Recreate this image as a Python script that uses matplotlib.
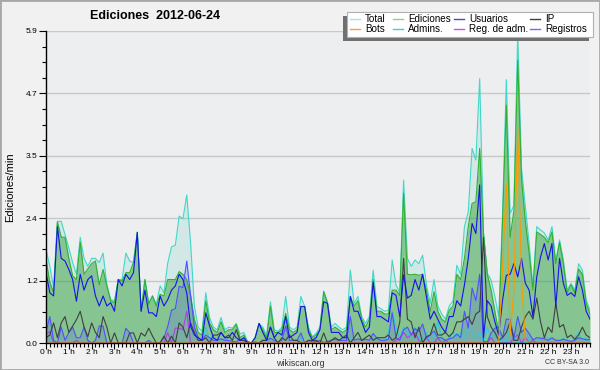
import matplotlib
matplotlib.use('Agg')
import matplotlib.pyplot as plt
import numpy as np
from matplotlib.lines import Line2D
from matplotlib.patches import Rectangle

# edits per minute, 10 min steps (one row per hour)
total = [
    1.77, 1.45, 1.05, 2.3, 2.3, 2.05,
    1.8, 1.52, 1.3, 2.0, 1.6, 1.45,
    1.6, 1.6, 1.52, 1.7, 1.1, 0.82,
    0.8, 1.2, 1.2, 1.7, 1.55, 1.52,
    2.1, 0.6, 1.2, 0.76, 0.89, 0.73,
    1.08, 0.95, 1.51, 1.82, 1.85, 2.4,
    2.35, 2.8, 1.9, 0.7, 0.3, 0.22,
    0.95, 0.48, 0.3, 0.25, 0.48, 0.25,
    0.3, 0.28, 0.37, 0.17, 0.2, 0.03,
    0.0, 0.12, 0.37, 0.3, 0.15, 0.78,
    0.25, 0.22, 0.3, 0.88, 0.3, 0.25,
    0.3, 0.88, 0.69, 0.3, 0.12, 0.18,
    0.3, 0.98, 0.78, 0.3, 0.37, 0.3,
    0.25, 0.3, 1.38, 0.75, 0.88, 0.5,
    0.37, 0.5, 1.38, 0.69, 0.65, 0.6,
    0.62, 1.57, 1.1, 0.95, 3.08, 1.6,
    1.45, 1.57, 1.5, 1.66, 1.1, 0.75,
    1.2, 0.7, 0.55, 0.45, 0.7, 0.8,
    1.47, 1.3, 2.2, 2.48, 3.68, 3.46,
    5.0, 2.1, 1.32, 1.19, 0.88, 0.5,
    2.4, 4.98, 2.45, 2.6, 5.85, 3.3,
    2.58, 1.88, 1.06, 2.2, 2.14, 2.08,
    1.95, 2.2, 1.55, 1.95, 1.57, 1.0,
    1.13, 1.0, 1.5, 1.38, 0.81, 0.62,
]
ediciones = [
    1.58, 1.15, 0.95, 2.29, 2.0, 2.0,
    1.6, 1.27, 1.2, 1.9, 1.3, 1.4,
    1.5, 1.55, 1.1, 1.39, 1.08, 0.8,
    0.76, 1.2, 1.17, 1.33, 1.33, 1.52,
    2.09, 0.6, 1.2, 0.73, 0.89, 0.7,
    0.92, 0.89, 1.2, 1.2, 1.2, 1.35,
    1.3, 1.2, 0.9, 0.45, 0.2, 0.15,
    0.8, 0.38, 0.25, 0.2, 0.4, 0.2,
    0.25, 0.25, 0.35, 0.1, 0.15, 0.0,
    0.0, 0.1, 0.37, 0.25, 0.1, 0.69,
    0.2, 0.2, 0.25, 0.56, 0.25, 0.2,
    0.25, 0.69, 0.69, 0.25, 0.1, 0.15,
    0.25, 0.97, 0.75, 0.25, 0.3, 0.25,
    0.2, 0.25, 0.88, 0.7, 0.8, 0.45,
    0.3, 0.45, 1.2, 0.6, 0.6, 0.55,
    0.55, 1.0, 1.0, 0.9, 2.83, 1.3,
    1.29, 1.3, 1.28, 1.3, 1.0, 0.6,
    0.97, 0.6, 0.45, 0.4, 0.62, 0.7,
    1.3, 1.2, 1.6, 2.2, 2.64, 2.67,
    3.68, 2.07, 1.3, 1.0, 0.6, 0.2,
    2.3, 4.5, 2.0, 2.5, 5.35, 3.1,
    2.3, 1.7, 1.0, 2.1, 2.05, 2.0,
    1.9, 2.1, 1.5, 1.9, 1.5, 0.95,
    1.1, 0.95, 1.4, 1.3, 0.75, 0.55,
]
usuarios = [
    1.33, 0.95, 0.89, 2.2, 1.6, 1.55,
    1.39, 1.2, 0.79, 1.3, 1.0, 1.2,
    1.27, 0.89, 0.7, 0.89, 0.7, 0.76,
    0.6, 1.2, 1.08, 1.3, 1.2, 1.33,
    2.09, 0.6, 1.0, 0.57, 0.57, 0.5,
    0.89, 0.7, 0.82, 1.0, 1.08, 1.3,
    1.2, 0.95, 0.32, 0.15, 0.1, 0.05,
    0.57, 0.32, 0.1, 0.05, 0.2, 0.1,
    0.1, 0.2, 0.1, 0.05, 0.1, 0.0,
    0.0, 0.1, 0.37, 0.2, 0.05, 0.3,
    0.1, 0.2, 0.15, 0.5, 0.1, 0.15,
    0.2, 0.69, 0.69, 0.2, 0.05, 0.1,
    0.25, 0.78, 0.75, 0.2, 0.2, 0.2,
    0.1, 0.1, 0.88, 0.6, 0.6, 0.4,
    0.2, 0.3, 1.15, 0.5, 0.5, 0.45,
    0.4, 0.95, 0.9, 0.5, 1.29, 0.85,
    0.9, 1.2, 1.0, 1.3, 0.88, 0.45,
    0.6, 0.45, 0.3, 0.2, 0.5, 0.5,
    0.8, 0.7, 1.1, 1.6, 2.26, 2.07,
    2.99, 0.1, 0.8, 0.7, 0.4, 0.15,
    0.8, 1.28, 1.3, 1.5, 1.25, 1.6,
    1.13, 1.0, 0.5, 1.25, 1.63, 1.88,
    1.57, 1.88, 0.69, 1.6, 1.13, 0.9,
    0.95, 0.88, 1.25, 1.0, 0.6, 0.45,
]
ip = [
    0.1, 0.15, 0.38, 0.1, 0.38, 0.5,
    0.2, 0.32, 0.44, 0.6, 0.3, 0.12,
    0.38, 0.2, 0.1, 0.5, 0.3, 0.0,
    0.19, 0.0, 0.0, 0.0, 0.19, 0.19,
    0.0, 0.19, 0.13, 0.28, 0.13, 0.0,
    0.0, 0.13, 0.0, 0.13, 0.0, 0.38,
    0.3, 0.1, 0.38, 0.2, 0.05, 0.05,
    0.1, 0.0, 0.15, 0.15, 0.2, 0.1,
    0.15, 0.05, 0.25, 0.05, 0.05, 0.0,
    0.0, 0.0, 0.0, 0.05, 0.05, 0.3,
    0.1, 0.0, 0.1, 0.05, 0.15, 0.05,
    0.05, 0.0, 0.0, 0.05, 0.05, 0.05,
    0.0, 0.19, 0.0, 0.05, 0.1, 0.05,
    0.1, 0.15, 0.0, 0.1, 0.2, 0.05,
    0.1, 0.15, 0.05, 0.1, 0.1, 0.1,
    0.15, 0.05, 0.1, 0.4, 1.6, 0.45,
    0.4, 0.1, 0.3, 0.0, 0.12, 0.15,
    0.37, 0.15, 0.15, 0.2, 0.12, 0.2,
    0.4, 0.4, 0.45, 0.5, 0.35, 0.55,
    0.6, 2.0, 0.5, 0.3, 0.2, 0.05,
    0.1, 0.2, 0.4, 0.05, 0.05, 0.3,
    0.5, 0.6, 0.45, 0.85, 0.4, 0.1,
    0.3, 0.2, 0.75, 0.3, 0.35, 0.1,
    0.15, 0.07, 0.15, 0.3, 0.15, 0.1,
]
bots = [
    0, 0, 0, 0, 0, 0,
    0, 0, 0, 0, 0, 0,
    0, 0, 0, 0, 0, 0,
    0, 0, 0, 0, 0, 0,
    0, 0, 0, 0, 0, 0,
    0, 0, 0, 0, 0, 0,
    0, 0, 0, 0, 0, 0,
    0, 0, 0, 0, 0, 0,
    0, 0, 0, 0, 0, 0,
    0, 0, 0, 0, 0, 0,
    0, 0, 0, 0, 0, 0,
    0, 0, 0, 0, 0, 0,
    0, 0, 0, 0, 0, 0,
    0, 0, 0, 0, 0, 0,
    0, 0, 0, 0, 0, 0,
    0, 0, 0, 0, 0, 0,
    0, 0, 0, 0, 0, 0,
    0, 0, 0, 0, 0, 0,
    0, 0, 0, 0, 0, 0,
    0, 0, 0, 0, 0, 0.0,
    1.4, 3.0, 0.15, 1.0, 4.1, 1.2,
    0.05, 0, 0, 0, 0, 0,
    0, 0, 0, 0, 0, 0,
    0, 0, 0, 0, 0, 0,
]
admins = [
    0.1, 0.05, 0, 0, 0, 0,
    0, 0, 0.05, 0, 0, 0,
    0, 0, 0, 0, 0, 0,
    0, 0, 0, 0, 0, 0,
    0, 0, 0, 0, 0, 0,
    0, 0, 0, 0, 0, 0,
    0, 0, 0, 0, 0, 0,
    0.3, 0.05, 0.1, 0, 0, 0.1,
    0, 0, 0, 0, 0, 0,
    0, 0, 0, 0, 0, 0.1,
    0, 0, 0, 0, 0, 0,
    0, 0.1, 0, 0, 0, 0,
    0, 0, 0, 0, 0, 0,
    0, 0, 0.1, 0, 0, 0,
    0, 0, 0, 0.1, 0, 0,
    0.2, 0.6, 0.3, 0.1, 0.3, 0.2,
    0.1, 0.3, 0.1, 0, 0.2, 0,
    0.1, 0.4, 0.1, 0, 0.1, 0.2,
    0.1, 0.2, 0.1, 0.3, 0.2, 0.1,
    0.2, 0, 0.3, 0.1, 0.2, 0,
    0.1, 0, 0.3, 0.1, 0, 0,
    0, 0.1, 0, 0, 0.1, 0.1,
    0.1, 0, 0, 0, 0.1, 0,
    0, 0.1, 0.2, 0, 0.1, 0,
]
reg_adm = [
    0.16, 0.22, 0, 0, 0, 0,
    0, 0, 0.05, 0, 0, 0,
    0, 0, 0, 0, 0, 0,
    0, 0, 0, 0, 0, 0,
    0, 0, 0, 0, 0, 0,
    0, 0, 0.19, 0, 0.28, 0.28,
    0.25, 0.6, 0, 0, 0, 0,
    0, 0, 0, 0, 0, 0,
    0, 0, 0, 0, 0, 0,
    0, 0, 0, 0, 0, 0,
    0, 0, 0, 0, 0, 0,
    0, 0, 0, 0, 0, 0,
    0, 0, 0, 0, 0, 0,
    0, 0, 0, 0, 0, 0,
    0, 0, 0, 0, 0, 0,
    0, 0, 0.05, 0.1, 0.2, 0.1,
    0.15, 0.2, 0.05, 0, 0.1, 0,
    0, 0.1, 0, 0.05, 0, 0,
    0, 0, 0, 0, 0, 0,
    0, 0, 0, 0.1, 0, 0,
    0, 0, 0, 0.1, 0.15, 0,
    0.1, 0, 0.05, 0, 0, 0,
    0, 0, 0, 0, 0, 0,
    0, 0, 0, 0, 0, 0,
]
registros = [
    0.2, 0.5, 0.05, 0.0, 0.3, 0.05,
    0.2, 0.3, 0.1, 0.1, 0.3, 0.05,
    0.0, 0.05, 0.32, 0.32, 0.0, 0.0,
    0.0, 0.0, 0.0, 0.28, 0.19, 0.0,
    0.0, 0.0, 0.0, 0.05, 0.0, 0.0,
    0.0, 0.1, 0.31, 0.62, 0.65, 1.07,
    1.05, 1.55, 0.9, 0.3, 0.1, 0.05,
    0.15, 0.1, 0.05, 0.05, 0.08, 0.05,
    0.05, 0.03, 0.02, 0.07, 0.05, 0.03,
    0.0, 0.02, 0.0, 0.05, 0.05, 0.09,
    0.05, 0.02, 0.05, 0.32, 0.05, 0.05,
    0.05, 0.19, 0.0, 0.05, 0.02, 0.03,
    0.05, 0.01, 0.03, 0.05, 0.07, 0.05,
    0.05, 0.05, 0.5, 0.05, 0.08, 0.05,
    0.07, 0.05, 0.18, 0.09, 0.05, 0.05,
    0.07, 0.57, 0.1, 0.05, 0.25, 0.3,
    0.16, 0.27, 0.22, 0.36, 0.1, 0.15,
    0.23, 0.1, 0.1, 0.05, 0.08, 0.1,
    0.17, 0.1, 0.6, 0.28, 1.04, 0.8,
    1.3, 0.03, 0.02, 0.19, 0.28, 0.3,
    0.1, 0.45, 0.45, 0.1, 0.5, 0.2,
    0.28, 0.18, 0.06, 0.1, 0.09, 0.08,
    0.05, 0.1, 0.05, 0.05, 0.07, 0.05,
    0.03, 0.05, 0.1, 0.08, 0.06, 0.07,
]

hour_labels = ['%d h' % h for h in range(24)]
y_labels = ['0.0', '1.2', '2.4', '3.5', '4.7', '5.9']
y_max = 5.9

plt.rcParams['font.family'] = ['Liberation Sans', 'DejaVu Sans']

W, H = 600, 370
fig = plt.figure(figsize=(6, 3.7), dpi=100, facecolor='#f1f1f1')
ax = fig.add_axes([46 / W, 27 / H, 544 / W, 312 / H])
ax.set_facecolor('#edeef0')

t = np.arange(len(total)) / 6.0

ax.fill_between(t, 0, total, color='#3cc8b8', alpha=0.15, lw=0)
ax.fill_between(t, 0, ediciones, color='#2a9a2a', alpha=0.45, lw=0)
ax.fill_between(t, 0, registros, color='#4848ff', alpha=0.18, lw=0)

lw = 0.8
ax.plot(t, total, color='#40d8c8', lw=lw)
ax.plot(t, ediciones, color='#30b030', lw=lw)
ax.plot(t, admins, color='#30c8e0', lw=lw)
ax.plot(t, reg_adm, color='#b040e0', lw=lw)
ax.plot(t, registros, color='#5050ff', lw=lw)
ax.plot(t, ip, color='#404040', lw=lw)
ax.plot(t, usuarios, color='#1515e6', lw=lw)
ax.plot(t, bots, color='#ff9900', lw=lw)

ax.set_xlim(0, t[-1])
ax.set_ylim(0, y_max)
ax.set_yticks(np.linspace(0, y_max, 6))
ax.set_yticklabels(y_labels)
ax.set_yticks(np.linspace(0, y_max, 21), minor=True)
ax.set_xticks(np.arange(24))
ax.set_xticklabels(hour_labels)
ax.set_xticks(t, minor=True)
ax.yaxis.grid(True, which='major', color='#c8c8c8', lw=1)
ax.set_axisbelow(True)

for s in ['top', 'right']:
    ax.spines[s].set_visible(False)
for s in ['left', 'bottom']:
    ax.spines[s].set_linewidth(1)
ax.tick_params(which='major', direction='out', length=5, width=0.8, labelsize=6, pad=1)
ax.tick_params(which='minor', direction='out', length=3, width=0.8)
ax.tick_params(axis='x', which='major', length=4, pad=0)

fig.text(155 / W, 1 - 16 / H, 'Ediciones  2012-06-24', ha='center', va='center',
         fontsize=9, fontweight='bold')
fig.text(10 / W, 1 - 187 / H, 'Ediciones/min', rotation=90, ha='center', va='center',
         fontsize=8)
fig.text(300 / W, 1 - 363 / H, 'wikiscan.org', ha='center', va='center', fontsize=6.3,
         color='#333333')
fig.text(589 / W, 1 - 363 / H, 'CC BY-SA 3.0', ha='right', va='center', fontsize=5,
         color='#333333')

# legend drawn by hand (box with shadow to lower left)
def px(x, y):
    return x / W, 1 - y / H

fig.patches.append(Rectangle(px(343, 41), 246 / W, 25 / H, transform=fig.transFigure,
                             facecolor='#707070', edgecolor='none'))
fig.patches.append(Rectangle(px(347, 37), 246 / W, 25 / H, transform=fig.transFigure,
                             facecolor='white', edgecolor='#b0b0b0', lw=0.8))
legend_names = [['Total', 'Ediciones', 'Usuarios', 'IP'],
                ['Bots', 'Admins.', 'Reg. de adm.', 'Registros']]
legend_colors = [['#a8e4e0', '#8fd08f', '#4848d8', '#404040'],
                 ['#f4a040', '#48c8dc', '#d050e0', '#7070e8']]
col_x = [350, 393, 454, 530]
row_y = [19, 29]
for r in range(2):
    for c in range(4):
        x0, y0 = px(col_x[c], row_y[r])
        x1, _ = px(col_x[c] + 10, row_y[r])
        fig.lines.append(Line2D([x0, x1], [y0, y0], transform=fig.transFigure,
                                color=legend_colors[r][c], lw=1))
        fig.text(x1 + 5 / W, y0, legend_names[r][c], ha='left', va='center', fontsize=7.1)

fig.patches.append(Rectangle((0, 0), 1, 1, transform=fig.transFigure, fill=False,
                             edgecolor='#a8a8a8', lw=2))

fig.savefig('out.png', dpi=100, facecolor=fig.get_facecolor())
